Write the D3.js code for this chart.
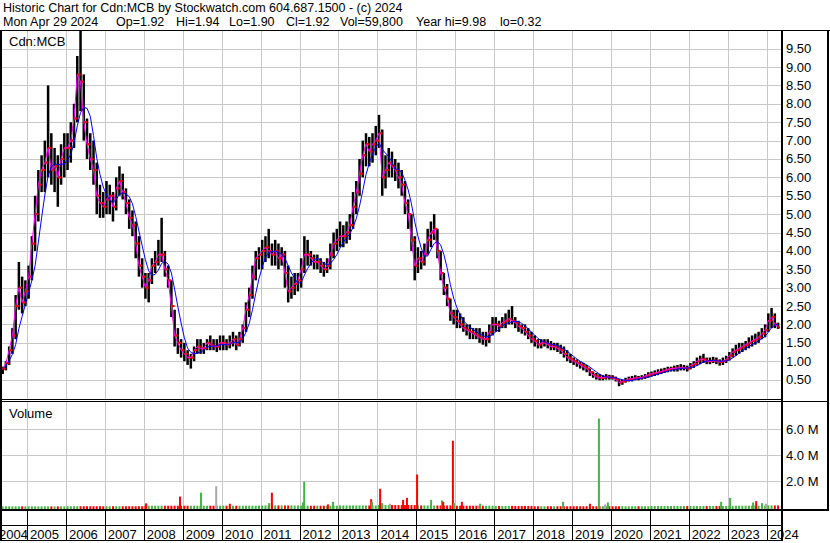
<!DOCTYPE html>
<html><head><meta charset="utf-8">
<script src="https://cdn.jsdelivr.net/npm/d3@7"></script>
<style>
body{margin:0;background:#fff}
svg{display:block}
text{font-family:"Liberation Sans",Arial,sans-serif;font-size:13px;fill:#000}
text.hdr{font-size:12.5px}
</style>
</head><body><div id="chart"></div>
<script>
// ---------- DATA (monthly, starting May 2004) ----------
const startYear = 2004, startMonth = 4;
const highs = [
 0.85,1.0,1.4,1.9,2.8,3.7,3.3,3.2,
 3.6,4.4,5.5,6.2,6.6,7.0,8.5,7.2,6.8,6.6,6.9,7.2,
 7.2,7.5,8.0,9.3,9.98,8.8,7.6,7.2,7.0,6.4,5.8,5.6,
 5.9,5.8,5.6,6.0,6.3,6.1,5.7,5.4,5.1,4.8,4.4,3.8,
 3.4,3.4,3.8,4.0,4.3,4.9,4.0,3.6,3.2,2.4,1.9,1.6,
 1.5,1.3,1.2,1.4,1.6,1.6,1.5,1.6,1.7,1.6,1.6,1.7,
 1.7,1.6,1.7,1.8,1.7,1.8,2.0,2.6,3.0,3.6,4.0,4.1,
 4.3,4.4,4.6,4.2,4.3,4.2,4.1,4.0,3.6,3.3,3.4,3.4,
 3.8,4.4,4.3,4.0,3.9,3.9,3.8,3.7,3.8,4.2,4.5,4.6,
 4.8,4.7,4.8,5.0,5.6,5.9,6.5,7.0,7.2,7.1,7.2,7.4,
 7.7,7.3,6.6,6.8,6.7,6.5,6.4,6.2,5.9,5.4,5.0,4.4,
 4.1,4.0,4.2,4.6,4.8,5.0,4.6,4.0,3.4,3.1,2.7,2.4,
 2.4,2.3,2.2,2.0,2.0,1.9,1.9,1.9,1.8,1.8,2.0,2.2,
 2.2,2.1,2.2,2.3,2.4,2.5,2.2,2.1,2.0,2.0,1.9,1.8,
 1.7,1.6,1.6,1.6,1.6,1.55,1.5,1.5,1.45,1.4,1.3,1.2,
 1.1,1.05,1.0,0.95,0.9,0.8,0.72,0.68,0.65,0.62,0.65,0.63,
 0.62,0.58,0.52,0.5,0.55,0.58,0.6,0.62,0.6,0.62,0.65,0.7,
 0.72,0.75,0.78,0.8,0.82,0.85,0.85,0.88,0.9,0.92,0.9,0.88,
 0.95,1.0,1.1,1.15,1.2,1.1,1.1,1.12,1.1,1.05,1.1,1.15,
 1.25,1.35,1.45,1.5,1.5,1.55,1.65,1.7,1.75,1.8,1.9,2.0,
 2.3,2.45,2.3,2.05
];
const lows = [
 0.65,0.75,0.9,1.2,1.6,2.4,2.3,2.5,
 2.7,3.2,4.0,4.8,5.6,5.6,6.0,5.8,5.6,5.2,5.8,6.0,
 6.2,6.4,6.8,7.5,7.8,7.0,6.5,6.2,5.8,5.0,4.9,4.9,
 5.0,5.0,4.8,5.1,5.5,5.4,5.0,4.6,4.4,3.8,3.3,3.0,
 2.7,2.6,3.1,3.4,3.6,3.7,3.3,3.0,2.2,1.4,1.2,1.1,
 1.0,0.9,0.8,1.0,1.2,1.2,1.2,1.3,1.3,1.3,1.25,1.3,
 1.3,1.3,1.35,1.4,1.3,1.4,1.5,1.8,2.2,2.7,3.2,3.5,
 3.5,3.7,3.8,3.6,3.6,3.5,3.6,3.0,2.6,2.7,2.8,2.9,
 3.0,3.4,3.6,3.6,3.5,3.5,3.4,3.3,3.4,3.5,3.8,4.0,
 4.1,4.1,4.2,4.3,4.6,5.0,5.5,6.0,6.3,6.3,6.4,6.6,
 6.8,5.5,5.7,6.0,6.0,5.9,5.7,5.5,5.0,4.6,4.0,3.2,
 3.4,3.5,3.6,3.9,4.1,4.3,3.8,3.2,2.8,2.5,2.1,2.0,
 1.9,1.9,1.8,1.7,1.6,1.6,1.6,1.5,1.45,1.4,1.5,1.7,
 1.8,1.8,1.9,1.9,2.0,2.0,1.9,1.8,1.75,1.7,1.6,1.5,
 1.4,1.35,1.35,1.4,1.35,1.3,1.3,1.25,1.2,1.1,1.0,0.95,
 0.9,0.85,0.8,0.75,0.7,0.6,0.55,0.5,0.48,0.48,0.5,0.5,
 0.5,0.45,0.32,0.36,0.42,0.45,0.45,0.48,0.48,0.5,0.52,0.55,
 0.58,0.6,0.62,0.65,0.68,0.7,0.72,0.72,0.72,0.75,0.75,0.72,
 0.78,0.82,0.88,0.92,0.95,0.92,0.92,0.95,0.92,0.88,0.9,0.95,
 1.02,1.1,1.15,1.2,1.25,1.3,1.35,1.4,1.45,1.5,1.6,1.65,
 1.8,1.9,1.9,1.88
];
const closes = [
 0.8,0.95,1.3,1.7,2.5,3.0,2.6,2.9,
 3.3,4.2,5.0,5.8,6.2,6.4,6.8,6.2,6.3,6.0,6.5,6.8,
 6.8,7.0,7.6,8.8,8.6,7.5,6.9,6.5,6.2,5.5,5.3,5.2,
 5.4,5.5,5.2,5.7,5.9,5.6,5.3,4.9,4.7,4.2,3.6,3.3,
 3.0,3.2,3.6,3.7,3.9,3.9,3.5,3.2,2.5,1.7,1.5,1.3,
 1.2,1.1,1.1,1.3,1.4,1.35,1.35,1.5,1.45,1.4,1.4,1.5,
 1.5,1.45,1.5,1.6,1.45,1.6,1.9,2.4,2.8,3.3,3.8,3.9,
 4.0,4.1,4.0,3.9,4.0,3.8,3.9,3.4,2.9,3.0,3.1,3.2,
 3.5,3.9,3.9,3.8,3.7,3.7,3.6,3.5,3.6,3.9,4.2,4.3,
 4.4,4.4,4.5,4.7,5.2,5.6,6.1,6.6,6.9,6.7,6.9,7.0,
 7.2,6.0,6.2,6.4,6.3,6.2,6.0,5.8,5.3,5.0,4.3,3.6,
 3.8,3.7,3.9,4.3,4.5,4.6,4.0,3.4,3.0,2.7,2.3,2.2,
 2.1,2.0,1.9,1.85,1.8,1.75,1.7,1.65,1.6,1.6,1.8,2.0,
 2.0,1.95,2.05,2.1,2.15,2.1,2.05,1.95,1.9,1.8,1.7,1.6,
 1.55,1.45,1.5,1.5,1.45,1.4,1.4,1.35,1.3,1.2,1.1,1.05,
 1.0,0.95,0.9,0.85,0.8,0.7,0.62,0.58,0.55,0.55,0.58,0.56,
 0.55,0.5,0.42,0.45,0.48,0.52,0.52,0.55,0.54,0.56,0.6,0.63,
 0.66,0.68,0.7,0.72,0.75,0.78,0.8,0.8,0.82,0.82,0.82,0.8,
 0.88,0.92,1.0,1.05,1.05,1.0,1.0,1.02,1.0,0.98,1.0,1.05,
 1.15,1.25,1.3,1.35,1.4,1.45,1.5,1.55,1.6,1.65,1.75,1.85,
 2.1,2.2,2.0,1.92
];
// base daily volume level per year (millions), 2004..2024
const baseVolByYear = [0.05,0.05,0.06,0.06,0.1,0.1,0.1,0.12,0.1,0.12,0.15,0.12,0.1,0.08,0.06,0.06,0.06,0.08,0.08,0.1,0.12];
// notable volume spikes: time (year fraction), volume (millions), colour code
const spikeTimes = [2008.06,2008.93,2009.47,2009.86,2010.21,2011.22,2011.29,2012.09,2012.12,2012.73,2012.86,2013.84,2013.86,2014.07,2014.12,2014.32,2014.66,2014.76,2015.02,2015.38,2015.66,2015.69,2015.94,2015.97,2016.17,2016.64,2018.77,2019.46,2019.69,2019.85,2019.92,2022.83,2023.06,2023.65,2023.73,2023.88,2023.98];
const spikeVols  = [0.28,0.8,1.1,1.6,0.25,0.3,1.1,0.35,1.95,0.2,0.4,0.6,0.4,1.4,0.3,0.25,0.55,0.7,2.5,0.55,0.5,0.4,5.1,0.3,0.4,0.25,0.4,0.25,6.8,0.2,0.35,0.4,0.7,0.35,0.45,0.3,0.25];
const spikeCols  = ["r","r","g","n","r","g","r","g","g","r","g","r","g","r","g","n","r","r","r","g","g","r","r","g","r","g","g","r","g","n","g","g","g","g","r","g","n"];

const priceTicks = [0.5,1,1.5,2,2.5,3,3.5,4,4.5,5,5.5,6,6.5,7,7.5,8,8.5,9,9.5];
const volTicks = [2,4,6];
const years = d3.range(2004, 2025);
const headerLine1 = "Historic Chart for Cdn:MCB by Stockwatch.com 604.687.1500 - (c) 2024";
const headerItems = ["Mon Apr 29 2024","Op=1.92","Hi=1.94","Lo=1.90","Cl=1.92","Vol=59,800","Year hi=9.98","lo=0.32"];

// ---------- LAYOUT ----------
const W = 830, H = 543;
const plotR = 782, plotTop = 31, priceBottom = 400, volTop = 402, volBottom = 509;
const svg = d3.select("#chart").append("svg").attr("width", W).attr("height", H);

const x = d3.scaleLinear().domain([2005, 2024]).range([27, 766.7]);
const yP = d3.scaleLinear().domain([0, 9.98]).range([398, 31]);
const yV = d3.scaleLinear().domain([0, 8]).range([507, 403]);

const data = closes.map((c, i) => {
  const t0 = startYear + (startMonth + i) / 12;
  return {t0, tc: t0 + 1/24, h: highs[i], l: lows[i], c, o: i ? closes[i-1] : c};
});

svg.append("clipPath").attr("id","pc").append("rect").attr("x",2).attr("y",plotTop).attr("width",plotR-2).attr("height",priceBottom-plotTop);
svg.append("clipPath").attr("id","vc").append("rect").attr("x",2).attr("y",volTop).attr("width",plotR-2).attr("height",volBottom-volTop);

// ---------- GRID ----------
const grid = svg.append("g").attr("stroke","#c8c8c8").attr("stroke-width",1).attr("shape-rendering","crispEdges");
grid.selectAll(".hp").data(priceTicks).join("line")
  .attr("x1",2).attr("x2",plotR).attr("y1",d=>Math.round(yP(d))+0.5).attr("y2",d=>Math.round(yP(d))+0.5);
grid.selectAll(".vp").data(years.slice(1)).join("line")
  .attr("x1",d=>Math.round(x(d))+0.5).attr("x2",d=>Math.round(x(d))+0.5).attr("y1",plotTop).attr("y2",priceBottom);
grid.selectAll(".hv").data(volTicks).join("line")
  .attr("x1",2).attr("x2",plotR).attr("y1",d=>Math.round(yV(d))+0.5).attr("y2",d=>Math.round(yV(d))+0.5);
grid.selectAll(".vv").data(years.slice(1)).join("line")
  .attr("x1",d=>Math.round(x(d))+0.5).attr("x2",d=>Math.round(x(d))+0.5).attr("y1",volTop).attr("y2",volBottom);

// ---------- PRICE ----------
const pg = svg.append("g").attr("clip-path","url(#pc)");
pg.selectAll("rect.bar").data(data).join("rect")
  .attr("x", d => x(d.tc) - 1.25).attr("width", 2.5)
  .attr("y", d => yP(d.h)).attr("height", d => yP(d.l) - yP(d.h))
  .attr("fill", "#000");
pg.selectAll("rect.cl").data(data).join("rect")
  .attr("x", d => x(d.tc)).attr("width", 2)
  .attr("y", d => yP(d.c) - 1).attr("height", 2).attr("fill", "#f00");
pg.selectAll("rect.op").data(data).join("rect")
  .attr("x", d => x(d.tc) - 2).attr("width", 2)
  .attr("y", d => yP(d.o) - 1).attr("height", 2).attr("fill", "#f00");

const lineM = d3.line().x(d => x(d.tc)).y(d => yP(d.c));
pg.append("path").datum(data).attr("d", lineM).attr("fill","none").attr("stroke","#f0f").attr("stroke-width",1);
const ma = data.map((d, i) => ({tc: d.tc, v: d3.mean(data.slice(Math.max(0, i-4), i+1), e => e.c)}));
const lineB = d3.line().x(d => x(d.tc)).y(d => yP(d.v));
pg.append("path").datum(ma).attr("d", lineB).attr("fill","none").attr("stroke","#00f").attr("stroke-width",1);

// ---------- VOLUME ----------
const colMap = {r:"#ff0000", g:"#44b444", n:"#a8a8a8"};
const vg = svg.append("g").attr("clip-path","url(#vc)");
const baseBars = data.map(d => ({t: d.tc, v: baseVolByYear[Math.floor(d.t0) - 2004], col: d.c >= d.o ? "g" : "r"}));
vg.selectAll("rect.bv").data(baseBars).join("rect")
  .attr("x", d => x(d.t) - 1).attr("width", 2)
  .attr("y", d => yV(d.v)).attr("height", d => volBottom - yV(d.v))
  .attr("fill", d => colMap[d.col]);
const spikes = spikeTimes.map((t, i) => ({t, v: spikeVols[i], col: spikeCols[i]}));
vg.selectAll("rect.sv").data(spikes).join("rect")
  .attr("x", d => x(d.t) - 1).attr("width", 2)
  .attr("y", d => yV(d.v)).attr("height", d => volBottom - yV(d.v))
  .attr("fill", d => colMap[d.col]);

// ---------- FRAME ----------
const fr = svg.append("g").attr("stroke","#000").attr("shape-rendering","crispEdges").attr("fill","none");
fr.append("line").attr("x1",0).attr("x2",W).attr("y1",30.5).attr("y2",30.5).attr("stroke-width",1);
fr.append("line").attr("x1",1).attr("x2",1).attr("y1",30).attr("y2",541).attr("stroke-width",2);
fr.append("line").attr("x1",782).attr("x2",782).attr("y1",30).attr("y2",541).attr("stroke-width",2);
fr.append("line").attr("x1",828).attr("x2",828).attr("y1",30).attr("y2",510).attr("stroke-width",2);
fr.append("line").attr("x1",0).attr("x2",782).attr("y1",399.5).attr("y2",399.5).attr("stroke-width",1);
fr.append("line").attr("x1",0).attr("x2",829).attr("y1",401.5).attr("y2",401.5).attr("stroke-width",1);
fr.append("line").attr("x1",0).attr("x2",829).attr("y1",509.5).attr("y2",509.5).attr("stroke-width",2);
fr.append("line").attr("x1",0).attr("x2",782).attr("y1",525.5).attr("y2",525.5).attr("stroke-width",1);
fr.append("line").attr("x1",0).attr("x2",782).attr("y1",540.5).attr("y2",540.5).attr("stroke-width",1);
fr.selectAll(".yd").data(years.slice(1)).join("line")
  .attr("x1",d=>Math.round(x(d))+0.5).attr("x2",d=>Math.round(x(d))+0.5).attr("y1",509).attr("y2",541).attr("stroke-width",1);

// ---------- TEXT ----------
svg.append("text").attr("class","hdr").attr("x",3).attr("y",12).text(headerLine1);
const hx = [3,116,176,229,286,340,416,500];
svg.selectAll("text.hi").data(headerItems).join("text").attr("class","hdr").attr("x",(d,i)=>hx[i]).attr("y",26).text(d=>d);
svg.append("text").attr("x",9).attr("y",46).text("Cdn:MCB");
svg.append("text").attr("x",9).attr("y",417.5).text("Volume");
svg.selectAll("text.pl").data(priceTicks).join("text").attr("x",786).attr("y",d=>yP(d)+4.5).text(d=>d3.format(".2f")(d));
svg.selectAll("text.vl").data(volTicks).join("text").attr("x",786).attr("y",d=>yV(d)+4.5).text(d=>d3.format(".1f")(d)+" M");
svg.selectAll("text.yl").data(years).join("text")
  .attr("x",d=> d === 2004 ? x(startYear + startMonth/12) - 2 : x(d) + 3).attr("y",539).text(d=>d);
</script>
</body></html>
